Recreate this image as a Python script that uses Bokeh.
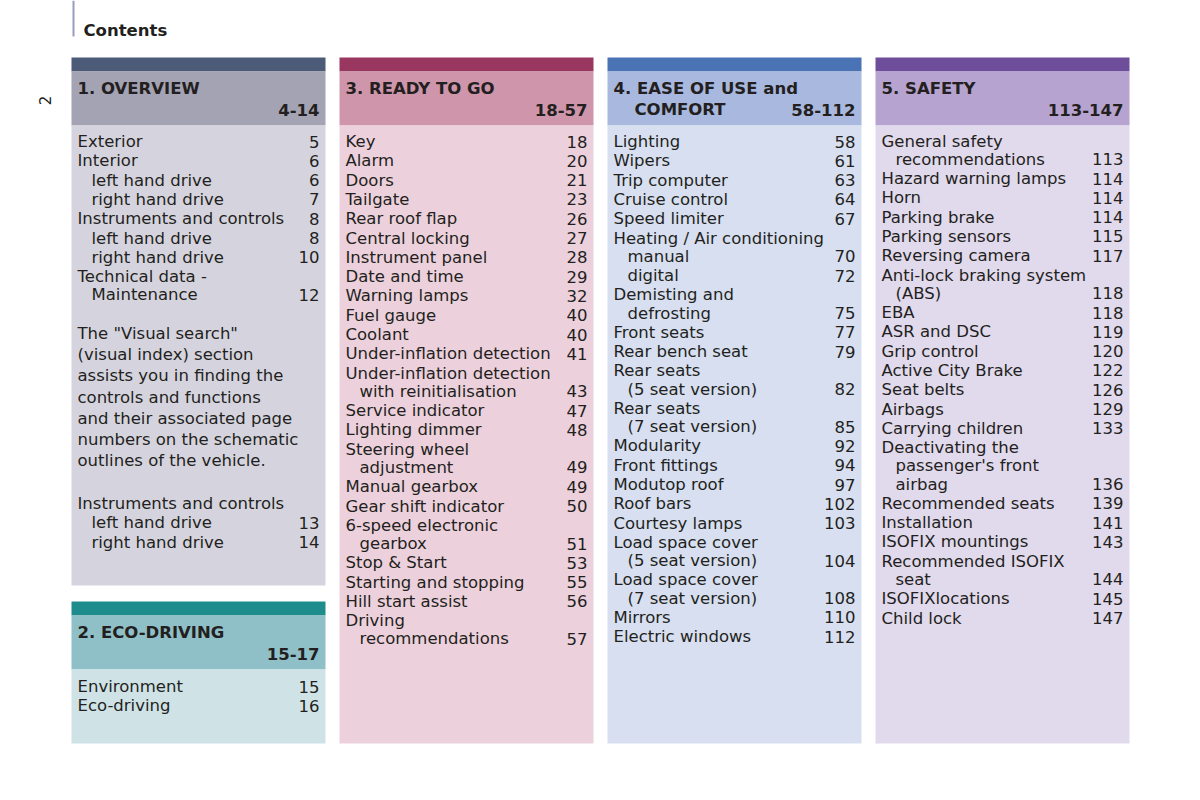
import math
from bokeh.plotting import figure
from bokeh.models import Range1d
from bokeh.embed import file_html
from bokeh.resources import INLINE
from bokeh.core.properties import value

# ---------------- data ----------------
page_number = "2"
page_title = "Contents"

# (text, page, indent level, is continuation of previous line)
overview_items = [
    ("Exterior", "5", 0, 0),
    ("Interior", "6", 0, 0),
    ("left hand drive", "6", 1, 0),
    ("right hand drive", "7", 1, 0),
    ("Instruments and controls", "8", 0, 0),
    ("left hand drive", "8", 1, 0),
    ("right hand drive", "10", 1, 0),
    ("Technical data -", "", 0, 0),
    ("Maintenance", "12", 1, 1),
]
overview_note = [
    'The "Visual search"',
    "(visual index) section",
    "assists you in finding the",
    "controls and functions",
    "and their associated page",
    "numbers on the schematic",
    "outlines of the vehicle.",
]
overview_items2 = [
    ("Instruments and controls", "", 0, 0),
    ("left hand drive", "13", 1, 0),
    ("right hand drive", "14", 1, 0),
]
eco_items = [
    ("Environment", "15", 0, 0),
    ("Eco-driving", "16", 0, 0),
]
ready_items = [
    ("Key", "18", 0, 0),
    ("Alarm", "20", 0, 0),
    ("Doors", "21", 0, 0),
    ("Tailgate", "23", 0, 0),
    ("Rear roof flap", "26", 0, 0),
    ("Central locking", "27", 0, 0),
    ("Instrument panel", "28", 0, 0),
    ("Date and time", "29", 0, 0),
    ("Warning lamps", "32", 0, 0),
    ("Fuel gauge", "40", 0, 0),
    ("Coolant", "40", 0, 0),
    ("Under-inflation detection", "41", 0, 0),
    ("Under-inflation detection", "", 0, 0),
    ("with reinitialisation", "43", 1, 1),
    ("Service indicator", "47", 0, 0),
    ("Lighting dimmer", "48", 0, 0),
    ("Steering wheel", "", 0, 0),
    ("adjustment", "49", 1, 1),
    ("Manual gearbox", "49", 0, 0),
    ("Gear shift indicator", "50", 0, 0),
    ("6-speed electronic", "", 0, 0),
    ("gearbox", "51", 1, 1),
    ("Stop & Start", "53", 0, 0),
    ("Starting and stopping", "55", 0, 0),
    ("Hill start assist", "56", 0, 0),
    ("Driving", "", 0, 0),
    ("recommendations", "57", 1, 1),
]
ease_items = [
    ("Lighting", "58", 0, 0),
    ("Wipers", "61", 0, 0),
    ("Trip computer", "63", 0, 0),
    ("Cruise control", "64", 0, 0),
    ("Speed limiter", "67", 0, 0),
    ("Heating / Air conditioning", "", 0, 0),
    ("manual", "70", 1, 1),
    ("digital", "72", 1, 0),
    ("Demisting and", "", 0, 0),
    ("defrosting", "75", 1, 1),
    ("Front seats", "77", 0, 0),
    ("Rear bench seat", "79", 0, 0),
    ("Rear seats", "", 0, 0),
    ("(5 seat version)", "82", 1, 1),
    ("Rear seats", "", 0, 0),
    ("(7 seat version)", "85", 1, 1),
    ("Modularity", "92", 0, 0),
    ("Front fittings", "94", 0, 0),
    ("Modutop roof", "97", 0, 0),
    ("Roof bars", "102", 0, 0),
    ("Courtesy lamps", "103", 0, 0),
    ("Load space cover", "", 0, 0),
    ("(5 seat version)", "104", 1, 1),
    ("Load space cover", "", 0, 0),
    ("(7 seat version)", "108", 1, 1),
    ("Mirrors", "110", 0, 0),
    ("Electric windows", "112", 0, 0),
]
safety_items = [
    ("General safety", "", 0, 0),
    ("recommendations", "113", 1, 1),
    ("Hazard warning lamps", "114", 0, 0),
    ("Horn", "114", 0, 0),
    ("Parking brake", "114", 0, 0),
    ("Parking sensors", "115", 0, 0),
    ("Reversing camera", "117", 0, 0),
    ("Anti-lock braking system", "", 0, 0),
    ("(ABS)", "118", 1, 1),
    ("EBA", "118", 0, 0),
    ("ASR and DSC", "119", 0, 0),
    ("Grip control", "120", 0, 0),
    ("Active City Brake", "122", 0, 0),
    ("Seat belts", "126", 0, 0),
    ("Airbags", "129", 0, 0),
    ("Carrying children", "133", 0, 0),
    ("Deactivating the", "", 0, 0),
    ("passenger's front", "", 1, 1),
    ("airbag", "136", 1, 1),
    ("Recommended seats", "139", 0, 0),
    ("Installation", "141", 0, 0),
    ("ISOFIX mountings", "143", 0, 0),
    ("Recommended ISOFIX", "", 0, 0),
    ("seat", "144", 1, 1),
    ("ISOFIXlocations", "145", 0, 0),
    ("Child lock", "147", 0, 0),
]

section_titles = {
    "overview": ["1. OVERVIEW"],
    "eco": ["2. ECO-DRIVING"],
    "ready": ["3. READY TO GO"],
    "ease": ["4. EASE OF USE and", "COMFORT"],
    "safety": ["5. SAFETY"],
}
section_ranges = {
    "overview": "4-14",
    "eco": "15-17",
    "ready": "18-57",
    "ease": "58-112",
    "safety": "113-147",
}
# (bar, header, body)
section_colors = {
    "overview": ("#4b5b78", "#a4a3b3", "#d5d4de"),
    "eco": ("#1e8c8d", "#90c0c7", "#cfe3e7"),
    "ready": ("#9a3760", "#cf95aa", "#ecd1dc"),
    "ease": ("#4a73b6", "#a8b8de", "#d7dff0"),
    "safety": ("#6e4d9b", "#b6a3cf", "#e1d9ec"),
}

# ---------------- layout ----------------
FONT = "DejaVu Sans"
INK = "#231f20"
COL_LEFT = [71, 339, 607, 875]
COL_W = 254
BAR_H = 14
HEAD_H = 54
STEP = 19.3
CONT_STEP = 18.2
NOTE_STEP = 21.2
BODY_SIZE = "16.5px"
HEAD_SIZE = "16.5px"

p = figure(width=1184, height=784, output_backend="svg", toolbar_location=None,
           x_range=Range1d(0, 1184), y_range=Range1d(784, 0), min_border=0)
p.axis.visible = False
p.grid.visible = False
p.outline_line_color = None
p.background_fill_color = "white"
p.border_fill_color = "white"

# margin decorations
p.segment(x0=[73], y0=[0], x1=[73], y1=[36], line_color="#9a9cc2", line_width=2)
p.text(x=[83], y=[30], text=[page_title], text_font=value(FONT), text_font_style="bold",
       text_font_size="16.5px", text_color=INK, text_baseline="middle", text_align="left")
p.text(x=[44], y=[100], text=[page_number], angle=math.pi / 2, text_font=value(FONT),
       text_font_size="15px", text_color=INK, text_baseline="middle", text_align="center")


def draw_items(left, y, items, first=True):
    xs, ys, ts, px, py, pt = [], [], [], [], [], []
    for i, (txt, pg, ind, cont) in enumerate(items):
        if not (first and i == 0):
            y += CONT_STEP if cont else STEP
        xs.append(left + 6 + 14 * ind)
        ys.append(y)
        ts.append(txt)
        if pg:
            px.append(left + COL_W - 6)
            py.append(y)
            pt.append(pg)
    p.text(x=xs, y=ys, text=ts, text_font=value(FONT), text_font_size=BODY_SIZE,
           text_color=INK, text_baseline="middle", text_align="left")
    p.text(x=px, y=py, text=pt, text_font=value(FONT), text_font_size=BODY_SIZE,
           text_color=INK, text_baseline="middle", text_align="right")
    return y


def draw_section(key, col, top, bottom):
    left = COL_LEFT[col]
    bar, head, body = section_colors[key]
    p.quad(left=[left] * 3, right=[left + COL_W] * 3,
           top=[top, top + BAR_H, top + BAR_H + HEAD_H],
           bottom=[top + BAR_H, top + BAR_H + HEAD_H, bottom],
           fill_color=[bar, head, body], line_color=None)
    htop = top + BAR_H
    titles = section_titles[key]
    tx = [left + 6] + [left + 6 + 21] * (len(titles) - 1)
    ty = [htop + 17 + 21 * k for k in range(len(titles))]
    p.text(x=tx, y=ty, text=titles, text_font=value(FONT), text_font_style="bold",
           text_font_size=HEAD_SIZE, text_color=INK, text_baseline="middle", text_align="left")
    p.text(x=[left + COL_W - 6], y=[htop + 38], text=[section_ranges[key]],
           text_font=value(FONT), text_font_style="bold", text_font_size=HEAD_SIZE,
           text_color=INK, text_baseline="middle", text_align="right")
    return left, htop + HEAD_H + 16


left, y0 = draw_section("overview", 0, 57, 585)
y = draw_items(left, y0, overview_items)
y += 2 * STEP
note_y = [y + NOTE_STEP * k for k in range(len(overview_note))]
p.text(x=[left + 6] * len(overview_note), y=note_y, text=overview_note,
       text_font=value(FONT), text_font_size=BODY_SIZE, text_color=INK,
       text_baseline="middle", text_align="left")
y = note_y[-1] + 2 * 21.5
draw_items(left, y, overview_items2)

left, y0 = draw_section("eco", 0, 601, 743)
draw_items(left, y0 + 1, eco_items)

left, y0 = draw_section("ready", 1, 57, 743)
draw_items(left, y0, ready_items)

left, y0 = draw_section("ease", 2, 57, 743)
draw_items(left, y0, ease_items)

left, y0 = draw_section("safety", 3, 57, 743)
draw_items(left, y0 - 0.5, safety_items)

open("out.html", "w").write(file_html(p, INLINE))
